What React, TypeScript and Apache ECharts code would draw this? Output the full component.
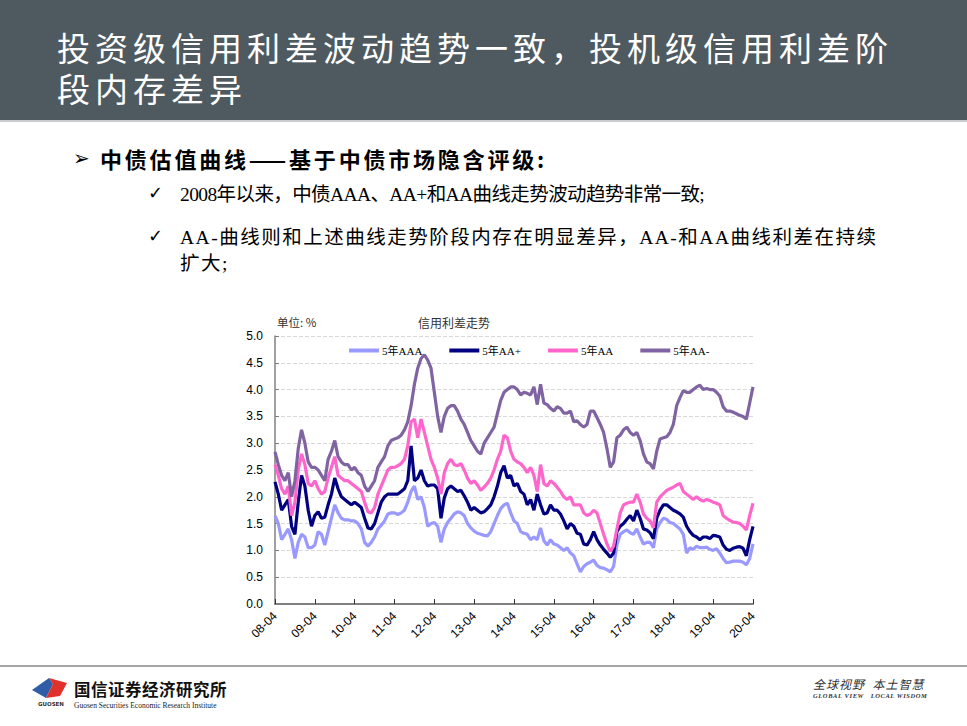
import React, { useEffect, useRef } from "react";
import * as echarts from "echarts";

// ---- data (monthly readings, 2008-04 .. 2020-04) ----
const months: string[] = (() => {
  const out: string[] = [];
  for (let y = 8; y <= 20; y++) {
    for (let m = 1; m <= 12; m++) {
      if (y === 8 && m < 4) continue;
      if (y === 20 && m > 4) continue;
      out.push(`${String(y).padStart(2, "0")}-${String(m).padStart(2, "0")}`);
    }
  }
  return out;
})();

const seriesNames = ["5年AAA", "5年AA+", "5年AA", "5年AA-"];

const aaa = [
  1.65, 1.5, 1.2, 1.3, 1.4, 1.2, 0.85, 1.15, 1.3, 1.25, 1.05, 1.05,
  1.1, 1.35, 1.3, 1.1, 1.35, 1.6, 1.85, 1.7, 1.6, 1.57, 1.57, 1.55,
  1.55, 1.5, 1.4, 1.15, 1.08, 1.15, 1.25, 1.4, 1.47, 1.55, 1.68, 1.7,
  1.7, 1.67, 1.7, 1.75, 1.9, 2.1, 2.2, 1.95, 2.0, 1.8, 1.45, 1.5,
  1.52, 1.45, 1.15, 1.4, 1.52, 1.6, 1.68, 1.72, 1.7, 1.65, 1.5, 1.42,
  1.36, 1.32, 1.3, 1.28, 1.27, 1.35, 1.5, 1.65, 1.78, 1.85, 1.88, 1.7,
  1.55, 1.5, 1.35, 1.32, 1.3, 1.2, 1.25, 1.2, 1.42, 1.18, 1.1, 1.2,
  1.12, 1.1, 1.05, 1.0, 1.05, 0.95, 0.9, 0.75, 0.6, 0.7, 0.75, 0.78,
  0.82, 0.72, 0.68, 0.67, 0.64, 0.6, 0.7, 1.1, 1.3, 1.35, 1.38, 1.33,
  1.3, 1.4, 1.25, 1.12, 1.15, 1.15, 1.05, 1.4, 1.52, 1.6, 1.58, 1.52,
  1.5, 1.45, 1.4, 1.3, 0.95, 1.05, 1.02, 1.08, 1.05, 1.05, 1.06, 1.02,
  1.0, 1.03, 0.95, 0.85, 0.77, 0.78, 0.8, 0.8, 0.8, 0.78, 0.73, 0.85,
  1.12,
];

const aaPlus = [
  2.28, 2.05, 1.75, 1.85, 1.95, 1.45, 1.3, 1.9, 2.4, 2.2, 1.75, 1.45,
  1.65, 1.72, 1.6, 1.62, 1.85, 2.05, 2.35, 2.15, 2.0, 1.95, 1.9, 1.85,
  1.9, 1.85, 1.8, 1.6, 1.42, 1.4, 1.5, 1.7, 1.9, 2.0, 2.05, 2.05,
  2.05, 2.05, 2.1, 2.15, 2.3, 2.95, 2.3, 2.35, 2.5, 2.3, 2.2, 2.22,
  2.22, 2.15, 1.6, 1.98, 2.15, 2.2, 2.15, 2.1, 2.12, 2.02, 1.9, 1.75,
  1.8, 1.75, 1.7, 1.72, 1.78, 1.85, 2.0, 2.2, 2.45, 2.58, 2.35, 2.4,
  2.2, 2.25, 2.1, 2.05, 1.85, 1.95, 1.75, 2.05, 1.85, 1.68, 1.7, 1.85,
  1.75, 1.75, 1.68, 1.55, 1.4, 1.5, 1.45, 1.32, 1.3, 1.12, 1.1, 1.2,
  1.35, 1.2, 1.1, 1.02, 0.95, 0.87, 0.95, 1.35, 1.45, 1.5, 1.58, 1.65,
  1.55, 1.75, 1.6, 1.4, 1.38, 1.33, 1.22, 1.6, 1.75, 1.85, 1.85, 1.8,
  1.75, 1.72, 1.68, 1.62, 1.45, 1.35, 1.28, 1.25, 1.2, 1.25, 1.25, 1.22,
  1.28, 1.27, 1.25, 1.1, 1.02, 1.0, 1.04, 1.06, 1.07, 1.04, 0.9, 1.2,
  1.45,
];

const aa = [
  2.6, 2.4, 2.15, 2.05, 2.2, 1.65, 1.9, 2.5, 2.8, 2.6, 2.25, 2.2,
  2.3, 2.15, 2.05, 2.1, 2.35, 2.55, 2.75, 2.4, 2.35, 2.3, 2.3, 2.25,
  2.2, 2.15, 2.1, 1.9, 1.72, 1.7, 1.8, 2.05, 2.2, 2.35, 2.5, 2.55,
  2.55, 2.58, 2.62, 2.7, 2.95, 3.4, 3.45, 3.1, 3.45, 3.2, 2.95, 2.7,
  2.55, 2.35, 2.05, 2.45, 2.62, 2.7, 2.6, 2.58, 2.62, 2.5, 2.35, 2.25,
  2.3, 2.22, 2.12, 2.18, 2.25, 2.35, 2.5, 2.7, 2.85, 3.15, 3.1, 2.85,
  2.7, 2.65, 2.62, 2.55, 2.45, 2.55, 2.4, 2.1, 2.6, 2.25, 2.2, 2.3,
  2.25, 2.18, 2.1, 2.0, 1.95, 2.0, 1.85, 1.85, 1.85, 1.7, 1.65, 1.68,
  1.75, 1.7, 1.5, 1.3, 1.12, 0.98, 1.08, 1.4, 1.7, 1.85, 1.88, 1.9,
  1.9, 2.05, 1.9, 1.68, 1.6, 1.55, 1.42, 1.9, 2.0, 2.06, 2.12, 2.15,
  2.18, 2.22, 2.25, 2.1, 2.05, 2.0, 1.95, 2.0, 1.95, 1.92, 1.95, 1.93,
  1.9, 1.88, 1.85, 1.65, 1.6, 1.56, 1.53, 1.52, 1.5, 1.45, 1.38, 1.65,
  1.88,
];

const aaMinus = [
  2.84, 2.6, 2.4, 2.3, 2.45, 2.0, 2.3, 2.9, 3.25, 3.0, 2.65, 2.55,
  2.55, 2.5, 2.4, 2.3, 2.7, 2.85, 3.05, 2.75, 2.65, 2.6, 2.6, 2.5,
  2.55, 2.45, 2.4, 2.2, 2.1, 2.2, 2.3, 2.55, 2.65, 2.75, 2.95, 3.05,
  3.08, 3.1, 3.15, 3.25, 3.4, 3.7, 4.1, 4.4, 4.58, 4.65, 4.55, 4.4,
  3.95, 3.5, 3.2, 3.5, 3.65, 3.7, 3.7, 3.6, 3.45, 3.35, 3.2, 3.05,
  2.95, 2.85, 2.8, 3.0, 3.1, 3.2, 3.3, 3.55, 3.8, 3.95, 4.0, 4.05,
  4.05, 4.0, 3.9, 3.95, 3.93, 3.9, 4.05, 3.72, 4.1, 3.75, 3.72, 3.65,
  3.6, 3.68, 3.65, 3.56, 3.56, 3.6, 3.4, 3.42, 3.35, 3.3, 3.35, 3.6,
  3.6, 3.48, 3.35, 3.2, 2.9, 2.55, 2.65, 3.1, 3.15, 3.25, 3.3, 3.2,
  3.15, 3.2, 3.05, 2.8, 2.65, 2.62, 2.52, 2.85, 3.08, 3.1, 3.12, 3.2,
  3.35, 3.7, 3.85, 3.98, 3.95, 3.95, 4.0, 4.05, 4.08, 4.0, 4.02, 4.0,
  4.0, 3.95, 3.88, 3.68, 3.6, 3.6, 3.58, 3.55, 3.52, 3.5, 3.45, 3.75,
  4.05,
];

const seriesColors = ["#9999FF", "#000080", "#FF66CC", "#8064A2"];

const titleLines = ["投资级信用利差波动趋势一致，投机级信用利差阶", "段内存差异"];
const bulletText = "中债估值曲线——基于中债市场隐含评级:";
const checkLines = [
  "2008年以来，中债AAA、AA+和AA曲线走势波动趋势非常一致;",
  "AA-曲线则和上述曲线走势阶段内存在明显差异，AA-和AA曲线利差在持续",
  "扩大;",
];

const CJK = '"Noto Sans CJK SC", "Noto Sans", sans-serif';
const TITLE_FONT = '"Liberation Sans", "Noto Sans CJK SC", sans-serif';
const BODY_FONT = '"Liberation Serif", "Noto Sans CJK SC", serif';

function Chart() {
  const ref = useRef<HTMLDivElement>(null);
  useEffect(() => {
    if (!ref.current) return;
    const chart = echarts.init(ref.current, undefined, { renderer: "svg" });
    const data = [aaa, aaPlus, aa, aaMinus];
    chart.setOption({
      animation: false,
      grid: { left: 45, top: 31, width: 478, height: 268 },
      legend: {
        left: 114,
        top: 35,
        padding: 5,
        icon: "rect",
        itemWidth: 30,
        itemHeight: 4,
        itemGap: 27,
        data: seriesNames,
        textStyle: {
          fontSize: 11,
          color: "#000",
          padding: [0, 0, 0, -2],
          fontFamily: '"Liberation Serif", "Noto Sans CJK SC", serif',
        },
      },
      graphic: [
        {
          type: "text",
          left: 47,
          top: 11,
          style: { text: "单位: %", fontSize: 11.5, fill: "#333", fontFamily: CJK },
        },
        {
          type: "text",
          left: 188,
          top: 11,
          style: { text: "信用利差走势", fontSize: 12, fill: "#333", fontFamily: CJK },
        },
      ],
      xAxis: {
        type: "category",
        data: months,
        boundaryGap: false,
        axisLine: { lineStyle: { color: "#808080", width: 2 } },
        axisTick: { inside: true, interval: 11, length: 5, lineStyle: { color: "#333" } },
        axisLabel: {
          interval: 11,
          rotate: 45,
          fontSize: 12,
          color: "#000",
          margin: 10,
          fontFamily: '"Liberation Sans", Arial, sans-serif',
        },
        splitLine: { show: false },
      },
      yAxis: {
        type: "value",
        min: 0,
        max: 5,
        interval: 0.5,
        axisLine: { show: true, lineStyle: { color: "#808080", width: 1.5 } },
        axisTick: { show: true, inside: true, length: 4, lineStyle: { color: "#808080" } },
        axisLabel: {
          formatter: (v: number) => v.toFixed(1),
          fontSize: 12,
          color: "#000",
          margin: 12,
          fontFamily: '"Liberation Sans", Arial, sans-serif',
        },
        splitLine: { lineStyle: { type: "dashed", color: "#D9D9D9" } },
      },
      series: seriesNames.map((name, i) => ({
        name,
        type: "line",
        data: data[i],
        symbol: "none",
        showSymbol: false,
        lineStyle: { color: seriesColors[i], width: 3.2 },
        itemStyle: { color: seriesColors[i] },
      })),
    });
    return () => chart.dispose();
  }, []);
  return <div ref={ref} style={{ position: "absolute", left: 230, top: 305, width: 540, height: 350 }} />;
}

export default function App() {
  return (
    <div
      style={{
        position: "fixed",
        left: 0,
        top: 0,
        width: 967,
        height: 726,
        background: "#fff",
        overflow: "hidden",
        fontFamily: CJK,
      }}
    >
      {/* title bar */}
      <div style={{ position: "absolute", left: 0, top: 0, width: 967, height: 120, background: "#4F5A60" }} />
      <div style={{ position: "absolute", left: 0, top: 120, width: 967, height: 2, background: "#C9CDD0" }} />
      {titleLines.map((t, i) => (
        <div
          key={i}
          style={{
            position: "absolute",
            left: 57,
            top: 32 + i * 41,
            height: 36,
            color: "#fff",
            fontSize: 33,
            lineHeight: "36px",
            letterSpacing: 5,
            whiteSpace: "nowrap",
            fontFamily: TITLE_FONT,
          }}
        >
          {t}
        </div>
      ))}

      {/* bullet */}
      <div
        style={{
          position: "absolute",
          left: 73,
          top: 145,
          fontSize: 20,
          fontWeight: 700,
          lineHeight: "26px",
          color: "#000",
          fontFamily: '"DejaVu Sans", sans-serif',
        }}
      >
        ➢
      </div>
      <div
        style={{
          position: "absolute",
          left: 100,
          top: 145,
          fontSize: 22,
          fontWeight: 700,
          lineHeight: "26px",
          letterSpacing: 2.8,
          color: "#000",
          whiteSpace: "nowrap",
        }}
      >
        {bulletText}
      </div>

      {[193, 236, 262].map((cy, i) => (
        <React.Fragment key={i}>
          {i < 2 && (
            <div
              style={{
                position: "absolute",
                left: 148,
                top: cy - 12,
                fontSize: 18,
                fontWeight: 700,
                lineHeight: "24px",
                color: "#000",
                fontFamily: '"DejaVu Sans", sans-serif',
              }}
            >
              ✓
            </div>
          )}
          <div
            style={{
              position: "absolute",
              left: 180,
              top: cy - 10,
              fontSize: 19.5,
              lineHeight: "24px",
              letterSpacing: i === 0 ? -0.6 : 1.5,
              color: "#000",
              whiteSpace: "nowrap",
              fontFamily: BODY_FONT,
            }}
          >
            {checkLines[i]}
          </div>
        </React.Fragment>
      ))}

      <Chart />

      {/* footer */}
      <div style={{ position: "absolute", left: 0, top: 665, width: 967, height: 2, background: "#A6A6A6" }} />
      <svg style={{ position: "absolute", left: 30, top: 674 }} width={42} height={36} viewBox="0 0 42 36">
        <polygon points="2,16 19,4 23,10 16,24" fill="#2F5DA8" />
        <polygon points="19,4 37,9 30,22 16,24 23,10" fill="#E0322B" />
        <text x={21} y={32} fontSize={5.5} fontWeight={700} textAnchor="middle" fill="#333" fontFamily="DejaVu Sans, sans-serif">
          GUOSEN
        </text>
      </svg>
      <div
        style={{
          position: "absolute",
          left: 74,
          top: 679,
          height: 20,
          fontSize: 16.5,
          fontWeight: 700,
          lineHeight: "20px",
          color: "#111",
          whiteSpace: "nowrap",
          letterSpacing: 0.5,
        }}
      >
        国信证券经济研究所
      </div>
      <div
        style={{
          position: "absolute",
          left: 74,
          top: 701,
          height: 9,
          fontSize: 7.5,
          lineHeight: "9px",
          color: "#222",
          whiteSpace: "nowrap",
          fontFamily: '"Liberation Serif", serif',
        }}
      >
        Guosen Securities Economic Research Institute
      </div>
      <div
        style={{
          position: "absolute",
          left: 813,
          top: 676,
          fontSize: 12,
          lineHeight: "15px",
          fontStyle: "italic",
          color: "#333",
          whiteSpace: "nowrap",
          letterSpacing: 1,
        }}
      >
        全球视野&nbsp;&nbsp;本土智慧
      </div>
      <div
        style={{
          position: "absolute",
          left: 813,
          top: 692,
          fontSize: 6.5,
          lineHeight: "8px",
          fontStyle: "italic",
          fontWeight: 700,
          color: "#333",
          whiteSpace: "nowrap",
          fontFamily: '"Liberation Serif", serif',
          letterSpacing: 0.6,
        }}
      >
        GLOBAL VIEW&nbsp;&nbsp;&nbsp;LOCAL WISDOM
      </div>
    </div>
  );
}
